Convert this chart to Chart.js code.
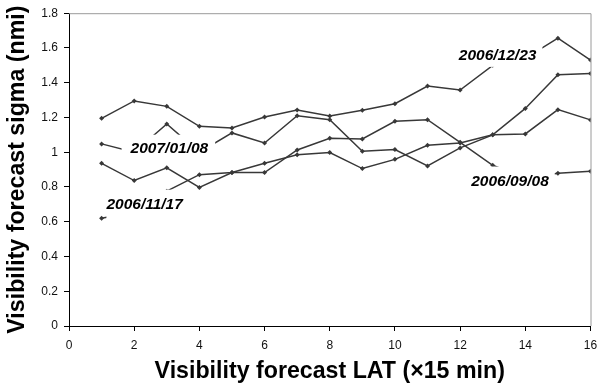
<!DOCTYPE html>
<html>
<head>
<meta charset="utf-8">
<script src="https://cdn.jsdelivr.net/npm/chart.js@4/dist/chart.umd.min.js"></script>
<style>
    body { margin: 0; background: #fff; }
    #wrap { width: 597px; height: 390px; }
</style>
</head>
<body>
<div id="wrap"><canvas id="sigmaChart" width="597" height="390"></canvas></div>
<script>
// Lead times (x 15 min)
const leadTimes = [1, 2, 3, 4, 5, 6, 7, 8, 9, 10, 11, 12, 13, 14, 15, 16];

// Sigma per forecast day (nmi)
const sigma20061223 = [1.195, 1.295, 1.264, 1.149, 1.14, 1.203, 1.243, 1.208, 1.241, 1.279, 1.381, 1.358, 1.50, 1.54, 1.656, 1.53];
const sigma20070108 = [1.048, 1.0, 1.163, 1.0, 1.111, 1.053, 1.21, 1.187, 1.005, 1.015, 0.921, 1.025, 1.10, 1.252, 1.446, 1.453];
const sigma20060908 = [0.936, 0.837, 0.91, 0.797, 0.883, 0.883, 1.013, 1.08, 1.076, 1.178, 1.187, 1.057, 0.925, 0.85, 0.879, 0.89];
const sigma20061117 = [0.62, 0.656, 0.776, 0.871, 0.883, 0.936, 0.985, 0.998, 0.906, 0.959, 1.04, 1.053, 1.10, 1.105, 1.245, 1.186];

const xTicks = [0, 2, 4, 6, 8, 10, 12, 14, 16];
const yTicks = [0, 0.2, 0.4, 0.6, 0.8, 1, 1.2, 1.4, 1.6, 1.8];

// Callout text placed next to each line, with a white box behind it
const dayLabels = [
    { text: '2006/12/23', x: 13.15, y: 1.563, pad: [6, 6, 12.5, 12.5] },
    { text: '2007/01/08', x: 3.08, y: 1.026, pad: [9, 7, 13, 13] },
    { text: '2006/09/08', x: 13.53, y: 0.837, pad: [6, 6, 14, 14] },
    { text: '2006/11/17', x: 2.32, y: 0.704, pad: [0, 7, 14, 15] }
];

const LINE_COLOR = '#383838';

function makeSeries(values) {
    return {
        data: values.map((v, i) => ({ x: leadTimes[i], y: v })),
        borderColor: LINE_COLOR,
        borderWidth: 1.5,
        backgroundColor: LINE_COLOR,
        pointStyle: 'rectRot',
        pointRadius: 2.5,
        pointBorderWidth: 0,
        tension: 0,
        fill: false
    };
}

// Gray frame on the top and right of the plot area
const frameLines = {
    id: 'frameLines',
    beforeDatasetsDraw(chart) {
        const { ctx, chartArea: a } = chart;
        ctx.save();
        ctx.strokeStyle = '#9a9a9a';
        ctx.lineWidth = 1;
        ctx.beginPath();
        ctx.moveTo(a.left, a.top + 0.5);
        ctx.lineTo(a.right + 0.5, a.top + 0.5);
        ctx.lineTo(a.right + 0.5, a.bottom);
        ctx.stroke();
        ctx.restore();
    }
};

// Day callouts drawn over the lines
const dayCallouts = {
    id: 'dayCallouts',
    afterDatasetsDraw(chart) {
        const { ctx, scales } = chart;
        ctx.save();
        ctx.font = 'italic bold 15.5px "Liberation Sans", Arial, sans-serif';
        ctx.textAlign = 'center';
        ctx.textBaseline = 'middle';
        dayLabels.forEach(l => {
            const cx = scales.x.getPixelForValue(l.x);
            const cy = scales.y.getPixelForValue(l.y);
            const half = ctx.measureText(l.text).width / 2;
            const [pl, pr, pt, pb] = l.pad;
            ctx.fillStyle = '#fff';
            ctx.fillRect(cx - half - pl, cy - pt, half * 2 + pl + pr, pt + pb);
            ctx.fillStyle = '#000';
            ctx.fillText(l.text, cx, cy + 1);
        });
        ctx.restore();
    }
};

const tickFont = { family: '"Liberation Sans", Arial, sans-serif', size: 12 };
const titleFont = { family: '"Liberation Sans", Arial, sans-serif', size: 23.2, weight: 'bold' };

new Chart(document.getElementById('sigmaChart'), {
    type: 'line',
    data: {
        datasets: [
            makeSeries(sigma20061223),
            makeSeries(sigma20070108),
            makeSeries(sigma20060908),
            makeSeries(sigma20061117)
        ]
    },
    options: {
        responsive: false,
        animation: false,
        layout: { padding: { top: 12, right: 0, left: 0, bottom: 0 } },
        plugins: {
            legend: { display: false },
            tooltip: { enabled: false }
        },
        scales: {
            x: {
                type: 'linear',
                min: 0,
                max: 16,
                afterBuildTicks: s => { s.ticks = xTicks.map(v => ({ value: v })); },
                afterFit: s => {
                    s.height = 64;
                    s.paddingLeft = 0;
                    s.paddingRight = 6.5;
                },
                border: { color: '#000', width: 1 },
                grid: { drawOnChartArea: false, drawTicks: true, tickLength: 5, color: '#000' },
                ticks: { color: '#111', font: tickFont, padding: 7, maxRotation: 0 },
                title: {
                    display: true,
                    text: 'Visibility forecast LAT (\u00d715 min)',
                    color: '#000',
                    font: titleFont,
                    padding: { top: 0, bottom: 4 }
                }
            },
            y: {
                min: 0,
                max: 1.8,
                afterBuildTicks: s => { s.ticks = yTicks.map(v => ({ value: v })); },
                afterFit: s => { s.width = 69; },
                border: { color: '#000', width: 1 },
                grid: { drawOnChartArea: false, drawTicks: true, tickLength: 5, color: '#000' },
                ticks: {
                    color: '#111',
                    font: tickFont,
                    padding: 6,
                    callback: v => String(Number(v.toFixed(1)))
                },
                title: {
                    display: true,
                    text: 'Visibility forecast sigma (nmi)',
                    color: '#000',
                    font: titleFont,
                    padding: { top: 4, bottom: 0 }
                }
            }
        }
    },
    plugins: [frameLines, dayCallouts]
});
</script>
</body>
</html>
